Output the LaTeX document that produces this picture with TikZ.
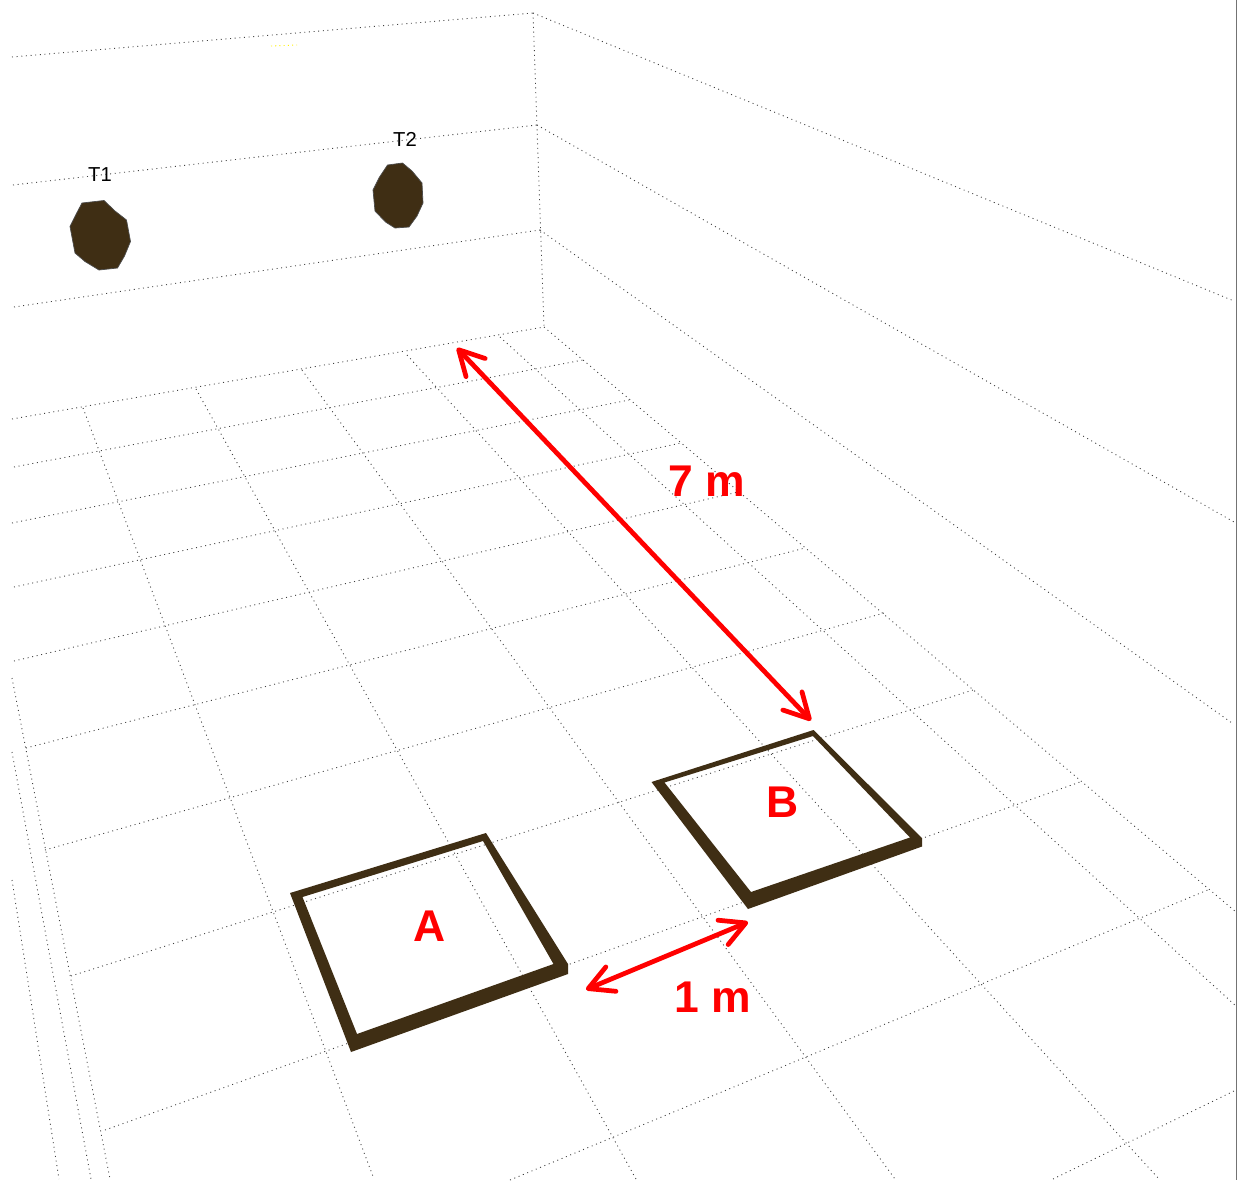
\documentclass[tikz,border=0pt]{standalone}
\usepackage{fontspec}
\setmainfont{Liberation Sans}
\usetikzlibrary{arrows.meta}
\definecolor{markred}{RGB}{255, 0, 0}
\definecolor{padbrown}{RGB}{63, 46, 20}
\tikzset{
  gridline/.style={draw=black!75, line width=0.5pt, dash pattern=on 0.55pt off 2.1pt},
  rightedge/.style={draw=black!55, line width=0.8pt},
  pad/.style={fill=padbrown, even odd rule},
  target/.style={fill=padbrown, draw=black!70, line width=0.4pt},
  distarrow/.style={draw=markred, line width=2.7pt,
    {Straight Barb[length=14pt, width=15pt, round]}-{Straight Barb[length=14pt, width=15pt, round]}},
  redlabel/.style={text=markred, font=\fontsize{25.3}{30}\selectfont\bfseries, inner sep=0pt},
  targetlabel/.style={text=black, font=\fontsize{11.5}{13}\selectfont, inner sep=0pt}
}
\begin{document}
\begin{tikzpicture}[x=0.02cm, y=-0.02cm]
  \fill[white] (0,0) rectangle (1237,1180);
  \useasboundingbox (0,0) rectangle (1237,1180);
  % Back wall
  \foreach \xa/\ya/\xb/\yb in {12/57/533/13, 13/185/537/125, 14/307/540/230, 12/419/544/327, 533/13/544/327} {
    \draw[gridline] (\xa,\ya) -- (\xb,\yb);
  }
  % Right wall
  \foreach \xa/\ya/\xb/\yb in {533/13/1234/301, 537/125/1234/522, 540/230/1232/723, 544/327/1236/912} {
    \draw[gridline] (\xa,\ya) -- (\xb,\yb);
  }
  % Left wall
  \foreach \xa/\ya/\xb/\yb in {12/678/110/1179, 12/752/91/1179, 12/880/59/1179} {
    \draw[gridline] (\xa,\ya) -- (\xb,\yb);
  }
  % Floor, across
  \foreach \xa/\ya/\xb/\yb in {14/467/583/360, 12/523/629/400, 14/587/681/443, 14/661/738/492,
      26/748/805/548, 45/850/884/613, 71/976/973/690, 105/1130/1080/782, 510/1180/1210/889, 1053/1179/1236/1090} {
    \draw[gridline] (\xa,\ya) -- (\xb,\yb);
  }
  % Floor, along
  \foreach \xa/\ya/\xb/\yb in {83/408/374/1179, 196/389/636/1179, 302/370/895/1179, 407/355/1159/1179, 500/337/1236/1006} {
    \draw[gridline] (\xa,\ya) -- (\xb,\yb);
  }
  % Border on the right and faint mark on the wall
  \draw[rightedge] (1236.5,0) -- (1236.5,1180);
  \draw[yellow, line width=0.5pt, dash pattern=on 0.6pt off 1.8pt] (271,46) -- (297,45);
  % Targets
  \filldraw[target] (82,203) -- (104,200.5) -- (115,211) -- (126.5,220) -- (130.5,241.5) -- (124.5,256) -- (117.5,268)
    -- (99,270) -- (85,261.5) -- (75,253) -- (70,226.5) -- (77,212.5) -- cycle;
  \filldraw[target] (387.5,165) -- (402.5,163) -- (412,171) -- (422,183) -- (423,203) -- (417,216) -- (409,227)
    -- (395,228) -- (385.5,222) -- (375,211) -- (373,190) -- (379.5,177) -- cycle;
  \node[targetlabel] (t1) at (100,175) {T1};
  \node[targetlabel] (t2) at (405,139) {T2};
  % Pads
  \fill[pad] (290,893) -- (486,833) -- (568,964) -- (568,974) -- (351,1052) -- cycle
    (302.5,897) -- (483,841) -- (553.5,964) -- (357,1034) -- cycle;
  \fill[pad] (651.5,782) -- (813.5,730) -- (922,838) -- (922,846.5) -- (748,909) -- cycle
    (664.5,782.5) -- (813,736) -- (910,837.5) -- (751,892) -- cycle;
  \node[redlabel] (a) at (430,926) {A};
  \node[redlabel] (b) at (782.5,802) {B};
  % Distances
  \coordinate (wallend) at (457,348);
  \coordinate (padb) at (811,720.5);
  \coordinate (pada) at (586,989.5);
  \coordinate (padc) at (748,922);
  \draw[distarrow] (wallend) -- (padb);
  \draw[distarrow] (pada) -- (padc);
  \node[redlabel] (seven) at (707,481) {7 m};
  \node[redlabel] (one) at (712.5,997) {1 m};
\end{tikzpicture}
\end{document}
